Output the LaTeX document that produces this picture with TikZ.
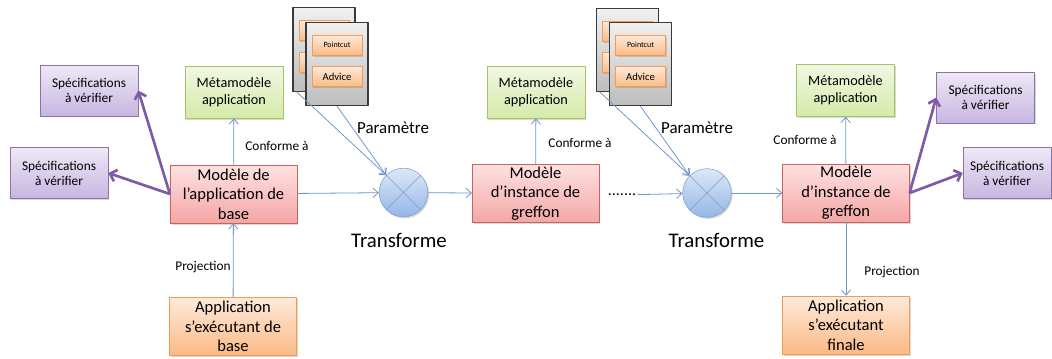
\documentclass[tikz,border=0pt]{standalone}
\usepackage{fontspec}
\setmainfont{Carlito}
\usepackage{tikz}
\usetikzlibrary{arrows.meta,calc,shadows}
\usetikzlibrary{positioning}
\definecolor{redtop}{HTML}{FFE1E1}\definecolor{redbot}{HTML}{F4A6A6}\definecolor{redline}{HTML}{C9625F}
\definecolor{grntop}{HTML}{F1F8E3}\definecolor{grnbot}{HTML}{D5EAA8}\definecolor{grnline}{HTML}{A5C46A}
\definecolor{purtop}{HTML}{EEE8F6}\definecolor{purbot}{HTML}{C7B6E0}\definecolor{purline}{HTML}{8B72AE}
\definecolor{oratop}{HTML}{FEEADB}\definecolor{orabot}{HTML}{FABA85}\definecolor{oraline}{HTML}{F59A50}
\definecolor{blutop}{HTML}{DDE8F6}\definecolor{blubot}{HTML}{94B6E6}\definecolor{bluline}{HTML}{7C9FD0}
\definecolor{cardtop}{HTML}{F0F0F0}\definecolor{cardbot}{HTML}{BDBDBD}\definecolor{cardline}{HTML}{3A3A3A}
\definecolor{linkblue}{HTML}{6F97CE}\definecolor{linkpur}{HTML}{7D5BA6}
\tikzset{shad/.style={drop shadow={shadow xshift=1pt,shadow yshift=-1.2pt,opacity=0.25,fill=black!60}},
  bigbox/.style={shad,minimum width=95pt,minimum height=43.5pt,inner sep=0pt,align=center,font=\fontsize{12.4}{14.6}\selectfont},
  modbox/.style={bigbox,draw=redline,top color=redtop,bottom color=redbot},
  appbox/.style={bigbox,draw=oraline,top color=oratop,bottom color=orabot},
  metabox/.style={shad,draw=grnline,top color=grntop,bottom color=grnbot,minimum width=73.5pt,minimum height=39pt,inner sep=0pt,align=center,font=\fontsize{10.7}{12.7}\selectfont},
  specbox/.style={shad,draw=purline,top color=purtop,bottom color=purbot,minimum width=73.5pt,minimum height=38pt,inner sep=0pt,align=center,font=\fontsize{10}{11.3}\selectfont},
  card/.style={draw=cardline,line width=0.8pt,top color=cardtop,bottom color=cardbot,minimum width=46.5pt,minimum height=62.5pt,inner sep=0pt},
  aspbox/.style={shad,draw=oraline,top color=oratop,bottom color=orabot,minimum width=37.5pt,minimum height=15pt,inner sep=0pt},
  trans/.style={circle,shad,draw=bluline,top color=blutop,bottom color=blubot,minimum size=36.5pt,inner sep=0pt},
  lbl/.style={font=\fontsize{10}{12}\selectfont},
  link/.style={draw=linkblue,line width=0.6pt,-{Straight Barb[length=4pt,width=7pt]}},
  verif/.style={draw=linkpur,line width=2pt,-{Straight Barb[length=4.5pt,width=9pt]}}}

\begin{document}
\begin{tikzpicture}[x=0.75pt,y=-0.75pt,line join=round]
\useasboundingbox (0,0) rectangle (1052,358);
% --- base model side
\node[specbox] (spec1) at (89,90.5) {Spécifications\\ à vérifier};
\node[specbox] (spec2) at (59,173) {Spécifications\\ à vérifier};
\node[metabox] (meta1) at (234,92) {Métamodèle\\ application};
\node[modbox] (mod1) at (233.5,194) {Modèle de\\ l’application de\\ base};
\node[appbox] (app1) at (233,326.5) {Application\\ s’exécutant de\\ base};
\node[lbl] (conf1) at (277,146) {Conforme à};
\node[lbl] (proj1) at (203,267) {Projection};
% --- first aspect stack and weaving
\node[card] (back1) at (324,49.5) {};
\node[aspbox,font=\fontsize{6}{7}\selectfont] (pcb1) at (324,30.5) {Pointcut};
\node[aspbox,font=\fontsize{8}{9}\selectfont] (adb1) at (324,62) {Advice};
\node[card] (front1) at (337,64) {};
\node[aspbox,font=\fontsize{6}{7}\selectfont] (pc1) at (337,45) {Pointcut};
\node[aspbox,font=\fontsize{8}{9}\selectfont] (ad1) at (337,76.5) {Advice};
\node[trans] (circ1) at (403.5,192.5) {};
\draw[bluline] (circ1.45) -- (circ1.225) (circ1.135) -- (circ1.315);
\node[font=\fontsize{12.7}{14}\selectfont] (par1) at (393,128) {Paramètre};
\node[font=\fontsize{15.6}{18}\selectfont] (tr1) at (399,240) {Transforme};
% --- intermediate plugin model
\node[metabox] (meta2) at (536,92) {Métamodèle\\ application};
\node[modbox] (mod2) at (535.5,193.5) {Modèle\\ d’instance de\\ greffon};
\node[lbl] (conf2) at (580,143) {Conforme à};
\node[font=\fontsize{12}{14}\selectfont,inner sep=1pt] (dots) at (622,195) {.......};
% --- second aspect stack and weaving
\node[card] (back2) at (627.5,50) {};
\node[aspbox,font=\fontsize{6}{7}\selectfont] (pcb2) at (627.5,31) {Pointcut};
\node[aspbox,font=\fontsize{8}{9}\selectfont] (adb2) at (627.5,62.5) {Advice};
\node[card] (front2) at (640.5,64) {};
\node[aspbox,font=\fontsize{6}{7}\selectfont] (pc2) at (640.5,45) {Pointcut};
\node[aspbox,font=\fontsize{8}{9}\selectfont] (ad2) at (640.5,76.5) {Advice};
\node[trans] (circ2) at (707,193) {};
\draw[bluline] (circ2.45) -- (circ2.225) (circ2.135) -- (circ2.315);
\node[font=\fontsize{12.7}{14}\selectfont] (par2) at (697,128) {Paramètre};
\node[font=\fontsize{15.6}{18}\selectfont] (tr2) at (716.5,240) {Transforme};
% --- final plugin model
\node[metabox] (meta3) at (845.5,90.5) {Métamodèle\\ application};
\node[modbox] (mod3) at (846,193) {Modèle\\ d’instance de\\ greffon};
\node[appbox] (app3) at (846,325) {Application\\ s’exécutant\\ finale};
\node[lbl] (conf3) at (805,140) {Conforme à};
\node[lbl] (proj3) at (892,272) {Projection};
\node[specbox] (spec3) at (985.5,97.5) {Spécifications\\ à vérifier};
\node[specbox,minimum width=66pt] (spec4) at (1007,173) {Spécifications\\ à vérifier};
% --- connectors
\draw[link] (mod1) -- (meta1);
\draw[link] (app1) -- (mod1);
\draw[link] (mod1) -- (circ1);
\draw[link] (circ1) -- (mod2);
\draw[link] (mod2) -- (meta2);
\draw[link] (dots) -- (circ2);
\draw[link] (circ2) -- (mod3);
\draw[link] (mod3) -- (meta3);
\draw[link] (mod3) -- (app3);
\draw[link] ([xshift=3pt]back1.south west) -- (circ1.135);
\draw[link] (front1.south) -- (circ1.135);
\draw[link] ([xshift=3pt]back2.south west) -- (circ2.135);
\draw[link] (front2.south) -- (circ2.135);
\draw[verif] (mod1.west) -- (spec1.east);
\draw[verif] (mod1.west) -- (spec2.east);
\draw[verif] (mod3.east) -- (spec3.west);
\draw[verif] (mod3.east) -- (spec4.west);
\end{tikzpicture}
\end{document}
